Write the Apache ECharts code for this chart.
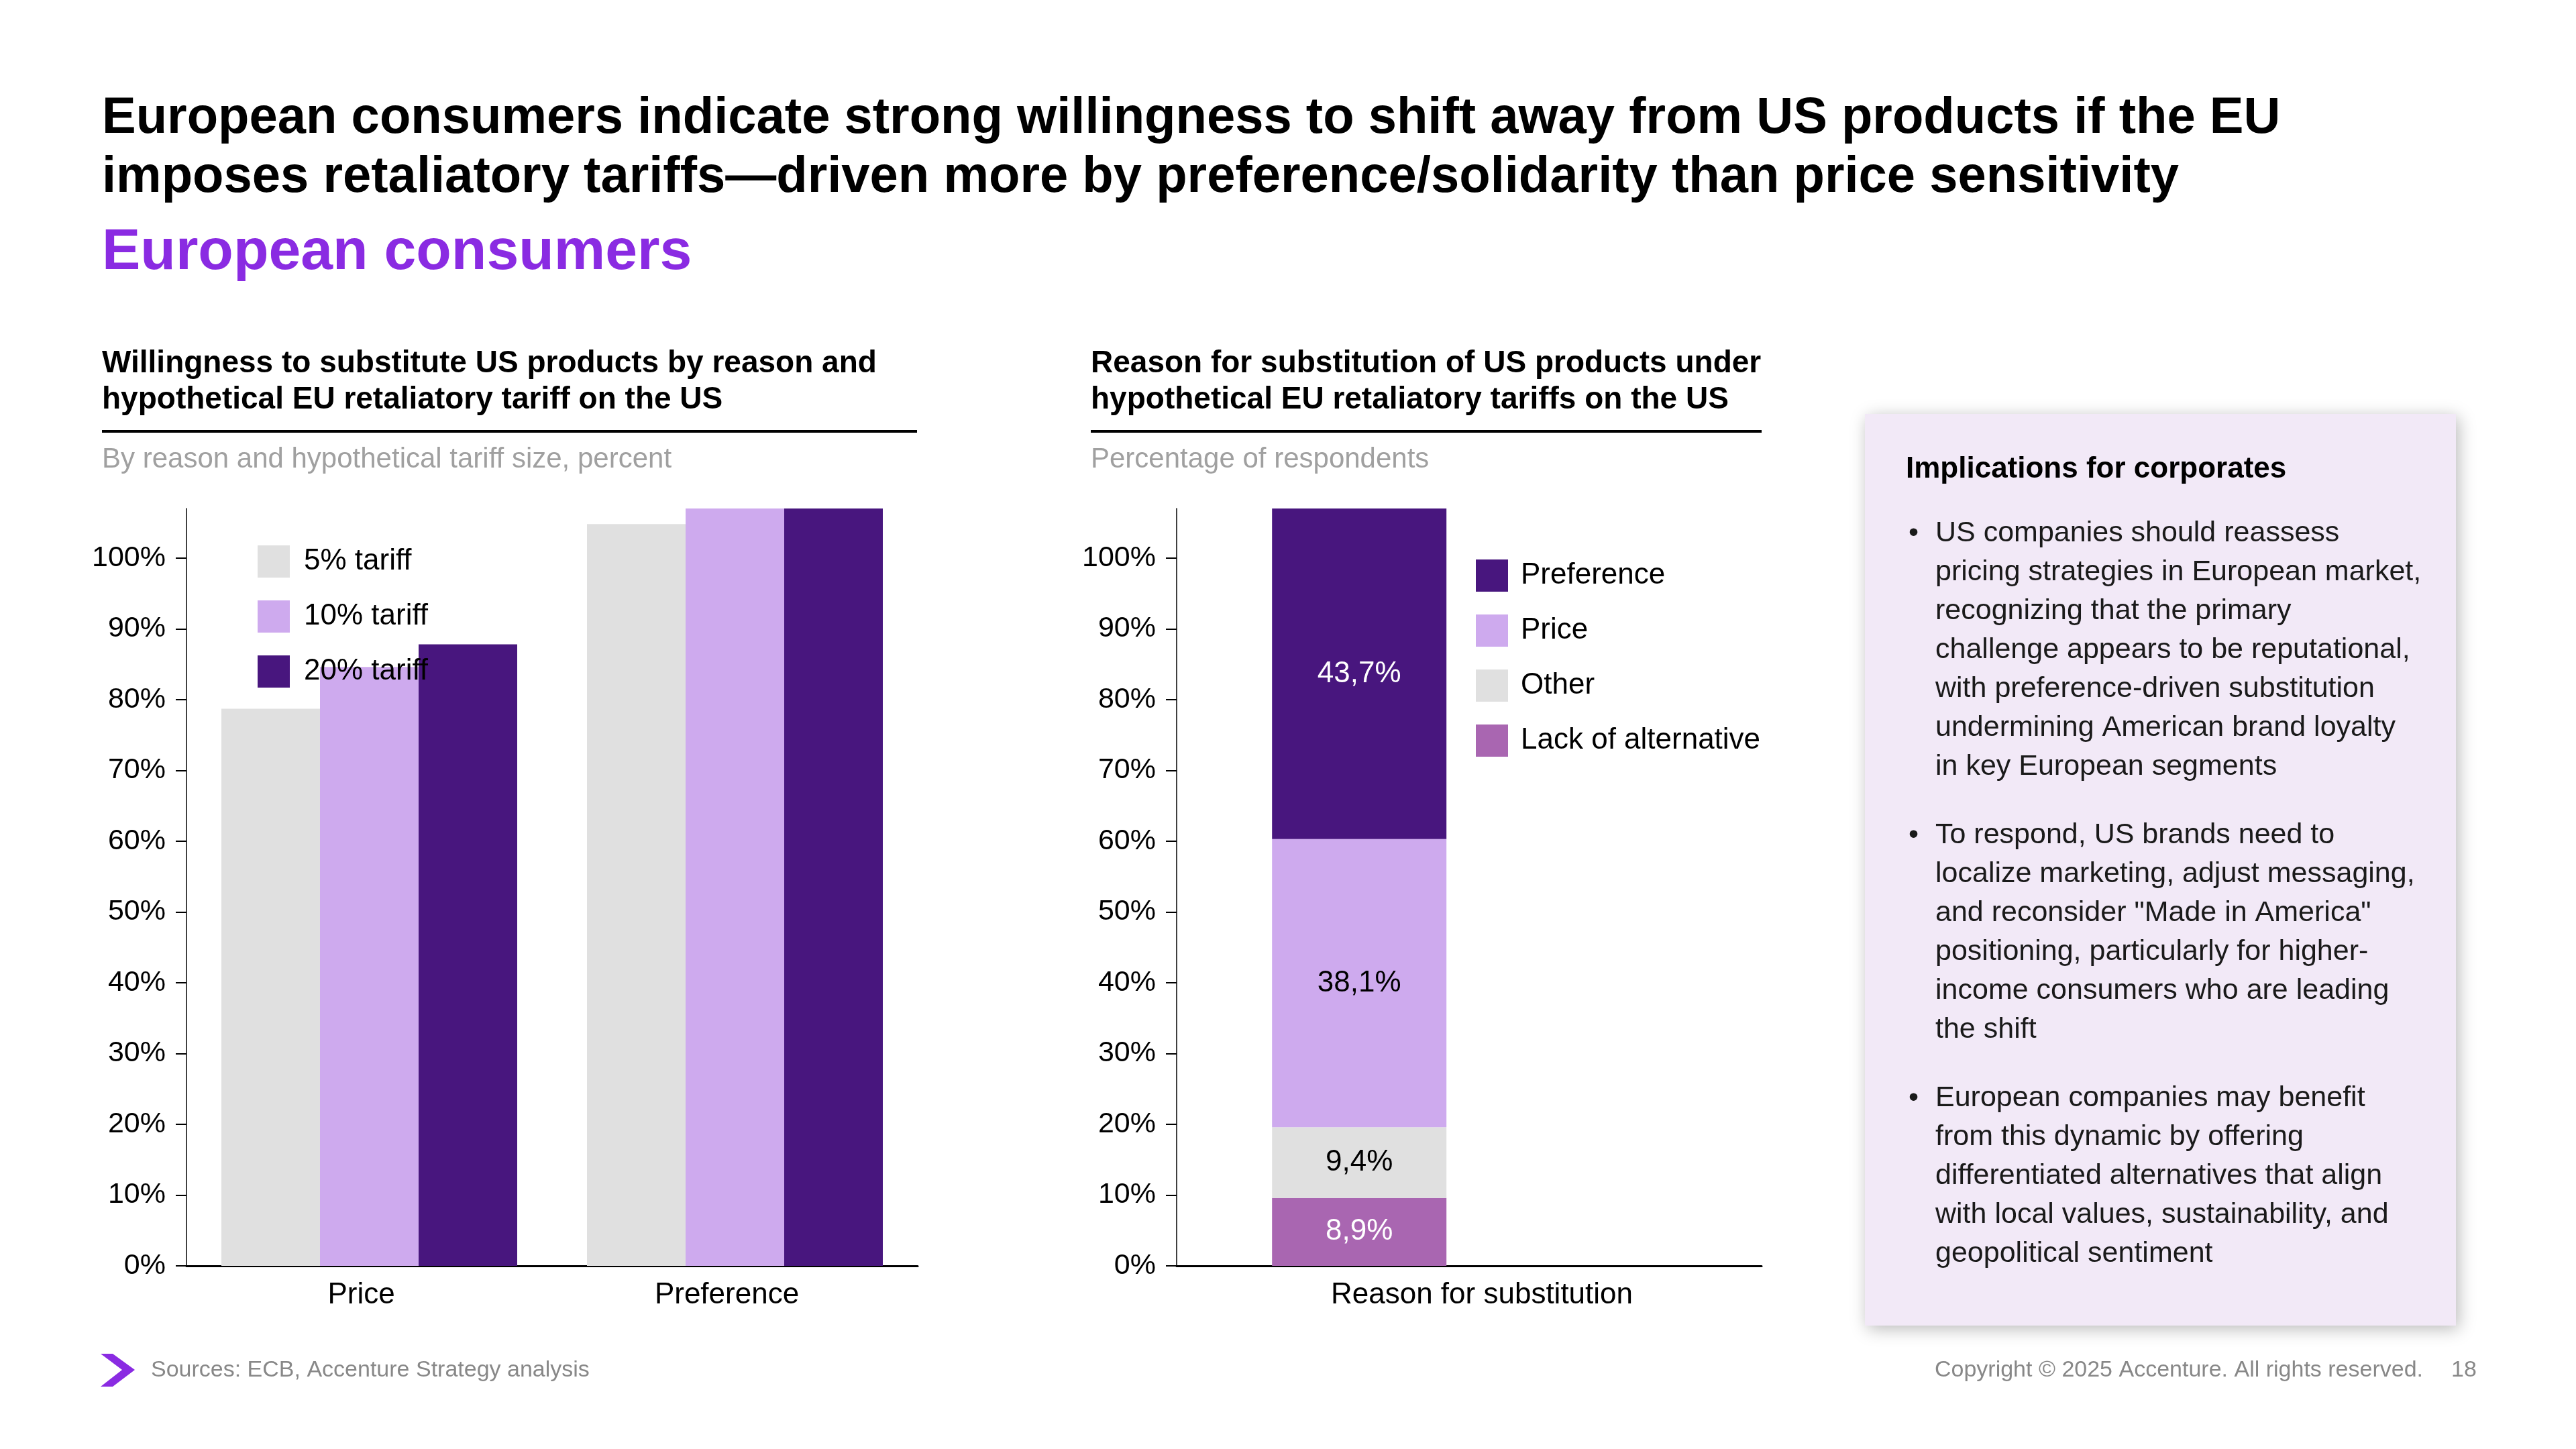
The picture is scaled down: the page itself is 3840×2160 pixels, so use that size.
<!DOCTYPE html>
<html>
<head>
<meta charset="utf-8">
<style>
  html, body { margin: 0; padding: 0; background: #fff; }
  #main { width: 3840px; height: 2160px; }
</style>
<script src="https://cdn.jsdelivr.net/npm/echarts@6/dist/echarts.min.js"></script>
</head>
<body>
<div id="main"></div>
<script>
// data
var reasons = ['Price', 'Preference'];
var tariffNames = ['5% tariff', '10% tariff', '20% tariff'];
var tariff5 = [78.7, 104.8];
var tariff10 = [84.6, 112];
var tariff20 = [87.8, 115];

var subCategory = ['Reason for substitution'];
var stackNames = ['Lack of alternative', 'Other', 'Price', 'Preference'];
var stackValues = [9.6, 10.0, 40.7, 46.7];       // drawn heights
var stackLabels = ['8,9%', '9,4%', '38,1%', '43,7%'];
var legendOrder = ['Preference', 'Price', 'Other', 'Lack of alternative'];

var yTicks = [0, 10, 20, 30, 40, 50, 60, 70, 80, 90, 100];

// colours
var cGray = '#E0E0E0';
var cLight = '#CEAAEE';
var cDark = '#48167E';
var cLack = '#A966B1';
var cPurple = '#8A2BE2';
var FONT = '"Liberation Sans", Arial, sans-serif';

(function () {
  var myChart = echarts.init(document.getElementById('main'));

  function yAxisOf(gridIndex) {
    return {
      type: 'value',
      gridIndex: gridIndex,
      min: 0,
      max: 107,
      axisLine: { show: true, lineStyle: { color: '#000', width: 1.5 } },
      axisTick: { show: true, length: 16, customValues: yTicks, lineStyle: { color: '#000', width: 2 } },
      axisLabel: {
        customValues: yTicks,
        formatter: '{value}%',
        color: '#000',
        fontSize: 43,
        margin: 31
      },
      splitLine: { show: false }
    };
  }

  function xAxisOf(gridIndex, data, pad) {
    return {
      type: 'category',
      gridIndex: gridIndex,
      data: data,
      axisLine: { show: true, lineStyle: { color: '#000', width: 3 } },
      axisTick: { show: false },
      axisLabel: { color: '#000', fontSize: 44, margin: 22, padding: pad }
    };
  }

  var tariffColors = [cGray, cLight, cDark];
  var tariffData = [tariff5, tariff10, tariff20];
  var series = [];
  // left: grouped bars
  tariffNames.forEach(function (n, i) {
    series.push({
      name: n,
      type: 'bar',
      xAxisIndex: 0,
      yAxisIndex: 0,
      data: tariffData[i],
      barWidth: 147,
      barGap: '0%',
      clip: true,
      itemStyle: { color: tariffColors[i] },
      emphasis: { disabled: true }
    });
  });

  // right: stacked bar
  var stackColors = [cLack, cGray, cLight, cDark];
  var labelColors = ['#fff', '#000', '#000', '#fff'];
  stackNames.forEach(function (n, i) {
    series.push({
      name: n,
      type: 'bar',
      xAxisIndex: 1,
      yAxisIndex: 1,
      stack: 'reason',
      data: [stackValues[i]],
      barWidth: 260,
      barGap: '26%',
      clip: true,
      itemStyle: { color: stackColors[i] },
      label: {
        show: true,
        position: 'inside',
        color: labelColors[i],
        fontSize: 44,
        formatter: function () { return stackLabels[i]; }
      },
      emphasis: { disabled: true }
    });
  });
  // empty stack so the bar sits left of the category centre, as on the slide
  series.push({
    name: '_pad',
    type: 'bar',
    xAxisIndex: 1,
    yAxisIndex: 1,
    stack: 'pad',
    data: [null],
    barWidth: 260,
    barGap: '26%'
  });

  // sidebar text
  var bullets = [
    ['US companies should reassess',
     'pricing strategies in European market,',
     'recognizing that the primary',
     'challenge appears to be reputational,',
     'with preference-driven substitution',
     'undermining American brand loyalty',
     'in key European segments'],
    ['To respond, US brands need to',
     'localize marketing, adjust messaging,',
     'and reconsider "Made in America"',
     'positioning, particularly for higher-',
     'income consumers who are leading',
     'the shift'],
    ['European companies may benefit',
     'from this dynamic by offering',
     'differentiated alternatives that align',
     'with local values, sustainability, and',
     'geopolitical sentiment']
  ];
  var bulletTops = [795, 1245, 1637];

  function txt(x, y, text, font, fill, extra) {
    var s = { text: text, font: font, fill: fill, align: 'left', verticalAlign: 'middle' };
    if (extra) for (var k in extra) s[k] = extra[k];
    return { type: 'text', x: x, y: y, style: s, z: 10 };
  }

  var graphics = [
    txt(152, 177, 'European consumers indicate strong willingness to shift away from US products if the EU', 'bold 76px ' + FONT, '#000'),
    txt(152, 265, 'imposes retaliatory tariffs\u2014driven more by preference/solidarity than price sensitivity', 'bold 76px ' + FONT, '#000'),
    txt(152, 377, 'European consumers', 'bold 86px ' + FONT, cPurple),

    // chart headings
    txt(152, 515, 'Willingness to substitute US products by reason and\nhypothetical EU retaliatory tariff on the US',
      'bold 46px ' + FONT, '#000', { verticalAlign: 'top', lineHeight: 54 }),
    { type: 'rect', shape: { x: 152, y: 641, width: 1215, height: 4 }, style: { fill: '#000' } },
    txt(152, 685, 'By reason and hypothetical tariff size, percent', '42px ' + FONT, '#A0A0A0'),

    txt(1626, 515, 'Reason for substitution of US products under\nhypothetical EU retaliatory tariffs on the US',
      'bold 46px ' + FONT, '#000', { verticalAlign: 'top', lineHeight: 54 }),
    { type: 'rect', shape: { x: 1626, y: 641, width: 1000, height: 4 }, style: { fill: '#000' } },
    txt(1626, 685, 'Percentage of respondents', '42px ' + FONT, '#A0A0A0'),

    // sidebar
    {
      type: 'rect',
      shape: { x: 2780, y: 617, width: 881, height: 1359 },
      style: { fill: '#F2E9F7', shadowBlur: 24, shadowColor: 'rgba(0,0,0,0.28)', shadowOffsetX: 4, shadowOffsetY: 5 },
      z: 1
    },
    txt(2841, 700, 'Implications for corporates', 'bold 44px ' + FONT, '#000'),

    // footer
    {
      type: 'polygon',
      shape: { points: [[150, 2018], [168, 2018], [201, 2042], [168, 2067], [150, 2067], [182, 2042]] },
      style: { fill: cPurple }
    },
    txt(225, 2043, 'Sources: ECB, Accenture Strategy analysis', '34px ' + FONT, '#888888'),
    txt(3612, 2043, 'Copyright \u00A9 2025 Accenture. All rights reserved.', '34px ' + FONT, '#888888', { align: 'right' }),
    txt(3654, 2043, '18', '34px ' + FONT, '#888888')
  ];

  bullets.forEach(function (lines, i) {
    graphics.push(txt(2845, bulletTops[i], '\u2022', '43px ' + FONT, '#1a1a1a'));
    graphics.push(txt(2885, bulletTops[i] - 29, lines.join('\n'), '43px ' + FONT, '#1a1a1a',
      { verticalAlign: 'top', lineHeight: 58 }));
  });

  var option = {
    animation: false,
    textStyle: { fontFamily: FONT },
    grid: [
      { left: 278, right: 2472, top: 758, bottom: 273, outerBoundsMode: 'none' },
      { left: 1754, right: 1214, top: 758, bottom: 273, outerBoundsMode: 'none' }
    ],
    legend: [
      {
        data: tariffNames,
        orient: 'vertical',
        left: 379,
        top: 808,
        icon: 'rect',
        itemWidth: 48,
        itemHeight: 48,
        itemGap: 34,
        selectedMode: false,
        textStyle: { color: '#000', fontSize: 44, padding: [0, 0, 0, 16] }
      },
      {
        data: legendOrder,
        orient: 'vertical',
        left: 2195,
        top: 829,
        icon: 'rect',
        itemWidth: 48,
        itemHeight: 48,
        itemGap: 34,
        selectedMode: false,
        textStyle: { color: '#000', fontSize: 44, padding: [0, 0, 0, 14] }
      }
    ],
    xAxis: [xAxisOf(0, reasons, [0, 24, 0, 0]), xAxisOf(1, subCategory, [0, 0, 0, 38])],
    yAxis: [yAxisOf(0), yAxisOf(1)],
    series: series,
    graphic: graphics
  };

  myChart.setOption(option);
  window.addEventListener('resize', function () {
    myChart.resize();
  });
})();
</script>
</body>
</html>
